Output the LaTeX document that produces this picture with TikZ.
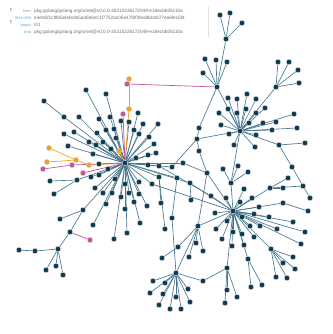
\documentclass[tikz,border=0pt]{standalone}
\usepackage{fontspec}
\setmainfont{Liberation Sans}
\usepackage{tikz}
\definecolor{dotnavy}{RGB}{14,58,82}
\definecolor{edgeblue}{RGB}{72,118,142}
\definecolor{hlorange}{RGB}{240,162,30}
\definecolor{hlpink}{RGB}{196,86,150}
\definecolor{keyblue}{RGB}{88,166,214}
\definecolor{valgray}{RGB}{110,110,110}
\pgfdeclarelayer{edges}
\pgfsetlayers{edges,main}
\tikzset{
  dot/.style={circle, fill=dotnavy, draw=gray!35, line width=0.3pt, inner sep=0pt, minimum size=5.4pt},
  odot/.style={dot, fill=hlorange},
  pdot/.style={dot, fill=hlpink},
  lnk/.style={edgeblue, line width=0.65pt},
  olnk/.style={hlorange, line width=0.7pt},
  plnk/.style={hlpink, line width=0.7pt},
  key/.style={font=\fontsize{3.9}{5}\selectfont, text=keyblue, anchor=east, inner sep=0pt},
  val/.style={font=\fontsize{4.7}{5}\selectfont, text=valgray, anchor=west, inner sep=0pt},
}
\begin{document}
\begin{tikzpicture}[x=1pt, y=-1pt]
  \useasboundingbox (0,0) rectangle (332,334);
  % header
  \node[font=\fontsize{4}{4}\selectfont, text=valgray, inner sep=0pt] (ic1) at (11,10) {¶};
  \node[font=\fontsize{4}{4}\selectfont, text=valgray, inner sep=0pt] (ic2) at (11,22) {¶};
  \node[key] (kfrom) at (32,11) {from:};
  \node[val] (vfrom) at (34,11) {pkg:golang/golang.org/x/net@v0.0.0-20210226172049-e18ecbb05110a};
  \node[key] (ksha) at (32,18) {SHA-256:};
  \node[val] (vsha) at (34,18) {e4eb5f1c9fd5eb4e3b5a45b6ec1f7752ac05e47f8f3fea9bb4d77ea6fec5f4};
  \node[key] (kgraph) at (32,25) {graph:};
  \node[val] (vgraph) at (34,25) {0/1};
  \node[key] (ksink) at (32,32) {sink:};
  \node[val] (vsink) at (34,32) {pkg:golang/golang.org/x/net@v0.0.0-20210226172049-e18ecbb05110a};
  \draw[gray!25, line width=0.4pt] (208,7) coordinate (sepa) -- (208,37) coordinate (sepb);
  % hubs
  \foreach \n/\x/\y in {hA/125/163, hB/233/211, hC/240/131, hD/176/273, hE/217/87,
      hF/276/87, hG/271/249, hT/226/39, hH/270/188, hK/231/183, hL/58/249, hM/83/210, hN/227/268}
    \node[dot] (\n) at (\x,\y) {};
  % dark nodes
  \foreach \n/\x/\y in {t1/220/15, t2/230/13, t3/242/23,
      e1/205/59, e2/216/60, e3/227/62, e4/203/73,
      f1/278/62, f2/289/62, f3/298/70, f4/299/83,
      c1/228/98, c2/237/99, c3/247/94, c4/256/99, c5/228/109, c6/246/109, c7/256/113,
      c8/265/108, c9/219/113, c10/221/125, c11/237/113, c12/249/123, c13/263/123,
      c14/276/122, c15/294/114, c16/272/130, c17/297/128, c18/256/135, c19/255/147,
      c20/234/145, c21/229/134, cx/279/145, c22/305/143,
      m1/199/128, m2/197/139, m3/199/151, m4/172/167, m5/207/173, m6/183/163,
      r1/292/167, r2/303/186, r3/310/198, r4/288/178, r5/283/188, r6/308/211, r7/283/203,
      k1/223/169, k2/238/166, k3/248/172,
      s1/259/207, s2/252/198, s3/244/189, s4/226/198, s5/240/202, s6/227/221, s7/216/229,
      s8/222/239, s9/233/232, s10/232/246, s11/242/234, s12/244/245, s13/254/237,
      s14/250/226, s15/242/217, s16/254/214, s17/260/226, s18/269/217, s19/277/229,
      s20/293/222, s21/305/232, s22/301/244, s23/215/213, s24/211/196, s25/248/259,
      s26/251/287, s27/262/285,
      g1/293/257, g2/283/263, g3/295/269, g4/276/277, g5/287/278,
      n1/227/290, n2/225/303, n3/237/297, n4/203/281,
      d1/153/281, d2/165/283, d3/150/293, d4/163/294, d5/159/305, d6/170/309,
      d7/176/297, d8/181/309, d9/190/302, d10/188/289,
      q1/177/178, q2/161/203, q3/172/218, q4/165/229, q5/190/183, q6/191/200,
      q7/198/226, q8/196/243, q9/203/251, q10/178/247, q11/162/258, q12/189/257,
      l1/35/251, l2/19/250, l3/46/270, l4/56/266, l5/63/275, l6/60/219, l7/70/232,
      a1/44/101, a2/64/117, a3/86/90, a4/106/94, a5/79/117, a6/99/119, a7/110/117,
      a8/121/121, a9/129/122, a10/138/113, a11/143/124, a12/158/124, a13/134/130,
      a14/139/134, a15/149/137, a16/154/144, a17/156/153, a18/148/155, a19/136/158,
      a20/64/134, a21/74/132, a22/89/142, a23/97/133, a24/103/142, a25/106/130,
      a26/114/129, a27/116/138, a28/111/149, a29/96/145, a30/68/146, a31/93/154,
      a32/99/164, a33/50/181, a34/54/194, a35/77/180, a36/91/177, a37/99/175,
      a38/108/169, a39/95/188, a40/103/193, a41/112/193, a42/106/204, a45/93/225,
      a46/125/209, a47/114/239, a48/127/233, a49/134/202, a50/139/194, a51/140/223,
      a52/147/206, a53/139/182, a54/152/184, a55/148/165, a56/159/166, a57/159/177,
      a58/115/179, a59/125/184, a60/121/197, a61/129/193}
    \node[dot] (\n) at (\x,\y) {};
  % highlighted nodes
  \foreach \n/\x/\y in {o1/129/79, o2/129/109, o3/49/148, o4/76/160, o5/47/162, o6/89/165, o7/119/151}
    \node[odot] (\n) at (\x,\y) {};
  \foreach \n/\x/\y in {p0/127/84, p1/123/114, p2/43/169, p3/72/165, p4/83/173, p5/90/240}
    \node[pdot] (\n) at (\x,\y) {};
  \begin{pgfonlayer}{edges}
    \foreach \a/\b in {hT/t1, hT/t2, hT/t3, hT/hE, hE/e1, hE/e2, hE/e3, hE/e4, hE/hC, hE/m1,
        hF/f1, hF/f2, hF/f3, hF/f4, hF/hC,
        hC/c1, hC/c2, hC/c3, hC/c4, hC/c5, hC/c6, hC/c7, hC/c8, hC/c9, hC/c10, hC/c11,
        hC/c12, hC/c13, hC/c14, hC/c15, hC/c16, hC/c17, hC/c18, hC/c19, hC/c20, hC/c21,
        hC/cx, cx/c22, cx/r1, r1/r2, r2/r3, hC/m2, hC/hK,
        m1/m2, m2/m3, m2/m4, m3/m5, m4/hA, m5/hB, m6/m5, m6/hA,
        hK/k1, hK/k2, hK/k3, hK/hB,
        hH/hB, hH/r4, hH/r5, hH/r2, r6/r7, r7/hB,
        hB/s1, hB/s2, hB/s3, hB/s4, hB/s5, hB/s6, hB/s7, hB/s8, hB/s9, hB/s10, hB/s11,
        hB/s12, hB/s13, hB/s14, hB/s15, hB/s16, hB/s17, hB/s18, hB/s19, hB/s20, hB/s21,
        hB/s22, hB/s23, hB/s24, hB/s25, s25/s26, s25/s27,
        hB/hG, hG/g1, hG/g2, hG/g3, hG/g4, hG/g5,
        hB/hN, hN/n1, hN/n2, hN/n3, hN/n4, n4/hD,
        hD/d1, hD/d2, hD/d3, hD/d4, hD/d5, hD/d6, hD/d7, hD/d8, hD/d9, hD/d10,
        q1/hA, q1/q3, q3/hD, a57/q2, a57/q4, q5/hA, q5/q6, q5/hB,
        q7/hD, q7/q8, q7/q9, q7/q10, q7/q12, q10/q11, q7/hB, q7/m5,
        hA/hM, hM/l6, hM/l7, l7/hL, hL/l1, l1/l2, hL/l3, hL/l4, hL/l5,
        a1/a2, a2/hA, a33/a35, a34/a35, a35/hA, a54/hB, a56/s24}
      \draw[lnk] (\a) -- (\b);
    \foreach \a in {a3, a4, a5, a6, a7, a8, a9, a10, a11, a12, a13, a14, a15, a16, a17,
        a18, a19, a20, a21, a22, a23, a24, a25, a26, a27, a28, a29, a30, a31, a32, a36,
        a37, a38, a39, a40, a41, a42, a45, a46, a47, a48, a49, a50, a51, a52, a53, a54,
        a55, a56, a57, a58, a59, a60, a61}
      \draw[lnk] (\a) -- (hA);
    \foreach \a/\b in {o1/o2, o2/hA, o3/o4, o5/o4, o4/o6, o6/hA, o7/hA}
      \draw[olnk] (\a) -- (\b);
    \foreach \a/\b in {p0/hE, p1/hA, p2/p3, p3/hA, p4/hA, l7/p5}
      \draw[plnk] (\a) -- (\b);
  \end{pgfonlayer}
\end{tikzpicture}
\end{document}
